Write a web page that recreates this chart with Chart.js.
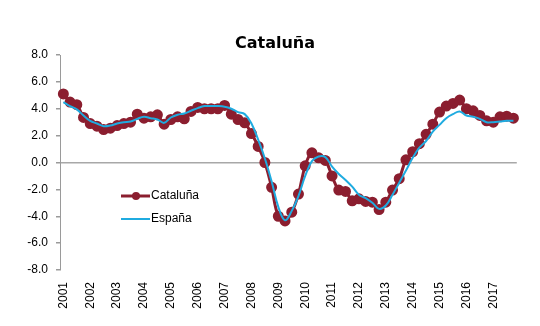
<!DOCTYPE html>
<html>
<head>
<meta charset="utf-8">
<script src="https://cdn.jsdelivr.net/npm/chart.js@4"></script>
<style>
  html, body { margin: 0; padding: 0; background: #fff; }
  #wrap { width: 540px; height: 326px; }
</style>
</head>
<body>
<div id="wrap"><canvas id="chart" width="540" height="326"></canvas></div>
<script>
// Quarterly growth, 2001 T1 - 2017 T4
var years = ['2001', '2002', '2003', '2004', '2005', '2006', '2007', '2008', '2009',
             '2010', '2011', '2012', '2013', '2014', '2015', '2016', '2017'];
var quarters = ['T1', 'T2', 'T3', 'T4'];

var cataluna = [
    5.1, 4.5, 4.3, 3.35,
    2.9, 2.7, 2.45, 2.55,
    2.75, 2.9, 3.0, 3.6,
    3.3, 3.4, 3.55, 2.85,
    3.2, 3.4, 3.25, 3.8,
    4.1, 4.0, 4.0, 4.0,
    4.25, 3.6, 3.2, 2.95,
    2.15, 1.2, 0.0, -1.85,
    -4.0, -4.35, -3.7, -2.35,
    -0.25, 0.72, 0.35, 0.15,
    -1.0, -2.05, -2.15, -2.85,
    -2.7, -2.9, -2.95, -3.5,
    -2.95, -2.05, -1.2, 0.2,
    0.8, 1.4, 2.1, 2.85,
    3.75, 4.2, 4.4, 4.65,
    4.0, 3.85, 3.5, 3.1,
    3.0, 3.4, 3.45, 3.3
];

var espana = [
    4.5, 4.2, 3.95, 3.5,
    3.1, 2.9, 2.7, 2.75,
    2.9, 3.0, 3.05, 3.25,
    3.4, 3.3, 3.2, 2.95,
    3.35, 3.55, 3.65, 3.85,
    4.05, 4.2, 4.2, 4.2,
    4.15, 4.0, 3.75, 3.6,
    2.9, 1.7, 0.3, -1.4,
    -3.3, -4.3, -3.6, -2.5,
    -1.0, 0.1, 0.45, 0.4,
    -0.3, -0.85, -1.3, -1.8,
    -2.4, -2.65, -3.0, -3.45,
    -3.2, -2.4, -1.5, -0.6,
    0.35, 1.1, 1.6, 2.3,
    2.8, 3.3, 3.6, 3.8,
    3.5, 3.4, 3.25, 3.0,
    3.0, 3.05, 3.1, 3.1
];

var titleText = 'Cataluña';

var labels = [];
years.forEach(function (y) {
    quarters.forEach(function (q) { labels.push(y + ' ' + q); });
});

var maroon = '#8b1e2f';
var cyan = '#1fabe0';
var font = 'Arial, "Liberation Sans", sans-serif';

// Title centred on the page, slightly right of the canvas middle
var pageTitle = {
    id: 'pageTitle',
    afterDraw: function (chart) {
        var ctx = chart.ctx;
        ctx.save();
        ctx.fillStyle = '#000';
        ctx.font = 'bold 16px "DejaVu Sans", sans-serif';
        ctx.textAlign = 'center';
        ctx.textBaseline = 'middle';
        ctx.fillText(titleText, 275, 44);
        ctx.restore();
    }
};

// Legend drawn inside the plot, lower left
var insideLegend = {
    id: 'insideLegend',
    afterDraw: function (chart) {
        var ctx = chart.ctx;
        var area = chart.chartArea;
        var x0 = area.left + 61;
        var rows = [
            { ds: chart.data.datasets[1], y: 196 },
            { ds: chart.data.datasets[0], y: 219 }
        ];
        ctx.save();
        rows.forEach(function (r) {
            ctx.strokeStyle = r.ds.borderColor;
            ctx.lineWidth = r.ds.borderWidth;
            ctx.beginPath();
            ctx.moveTo(x0, r.y);
            ctx.lineTo(x0 + 29, r.y);
            ctx.stroke();
            if (r.ds.pointRadius > 0) {
                ctx.fillStyle = r.ds.pointBackgroundColor;
                ctx.beginPath();
                ctx.arc(x0 + 15, r.y, 4, 0, Math.PI * 2);
                ctx.fill();
            }
            ctx.fillStyle = '#000';
            ctx.font = '12px ' + font;
            ctx.textAlign = 'left';
            ctx.textBaseline = 'middle';
            ctx.fillText(r.ds.label, x0 + 30, r.y);
        });
        ctx.restore();
    }
};

new Chart(document.getElementById('chart').getContext('2d'), {
    type: 'line',
    data: {
        labels: labels,
        datasets: [{
            label: 'España',
            data: espana,
            borderColor: cyan,
            borderWidth: 2,
            pointRadius: 0,
            tension: 0.4,
            fill: false,
            order: 0
        }, {
            label: 'Cataluña',
            data: cataluna,
            borderColor: maroon,
            backgroundColor: maroon,
            pointBackgroundColor: maroon,
            pointBorderColor: maroon,
            borderWidth: 3,
            pointRadius: 4,
            tension: 0.4,
            fill: false,
            order: 1
        }]
    },
    options: {
        responsive: false,
        maintainAspectRatio: false,
        animation: false,
        layout: { padding: { left: 0, right: 23, top: 55, bottom: 0 } },
        plugins: {
            legend: { display: false },
            tooltip: { enabled: false },
            title: { display: false }
        },
        scales: {
            x: {
                offset: true,
                grid: { display: false, drawTicks: false },
                border: { display: false },
                ticks: {
                    autoSkip: false,
                    minRotation: 90,
                    maxRotation: 90,
                    padding: 12,
                    color: '#000',
                    font: { family: font, size: 12 },
                    callback: function (val, i) {
                        return i % 4 === 0 ? years[i / 4] : '';
                    }
                },
                afterFit: function (s) { s.height = 56; }
            },
            y: {
                min: -8,
                max: 8,
                ticks: {
                    stepSize: 2,
                    padding: 8,
                    color: '#000',
                    font: { family: font, size: 12 },
                    callback: function (v) { return v.toFixed(1); }
                },
                grid: {
                    color: function (c) { return c.tick && c.tick.value === 0 ? '#a8a8a8' : 'rgba(0,0,0,0)'; },
                    lineWidth: 1.5,
                    tickColor: '#9a9a9a',
                    tickLength: 4
                },
                border: { display: true, color: '#9a9a9a', width: 1 },
                afterFit: function (s) { s.width = 60; }
            }
        }
    },
    plugins: [pageTitle, insideLegend]
});
</script>
</body>
</html>
